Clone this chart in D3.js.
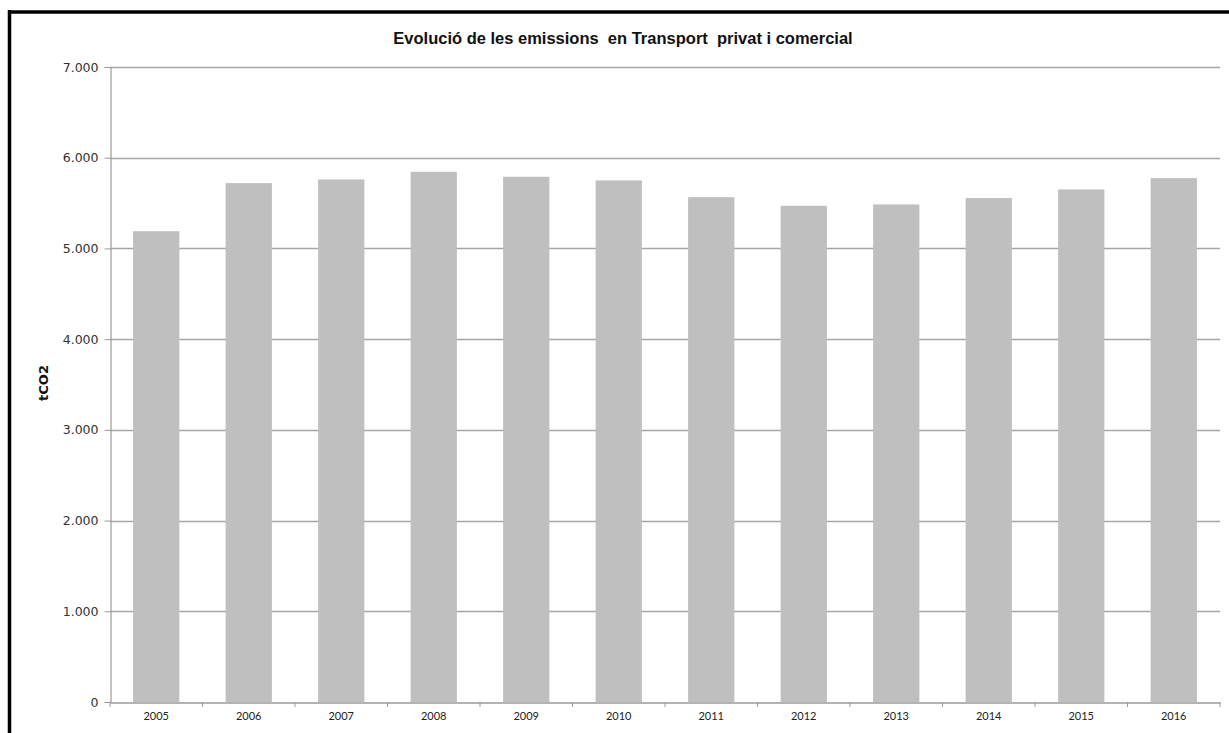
<!DOCTYPE html>
<html><head><meta charset="utf-8">
<script src="https://cdn.jsdelivr.net/npm/d3@7"></script>
<style>body{margin:0;background:#fff;overflow:hidden}</style>
</head><body>
<svg id="c" width="1229" height="733"></svg>
<script>
const years = ["2005","2006","2007","2008","2009","2010","2011","2012","2013","2014","2015","2016"];
const emissions = [5190, 5720, 5760, 5845, 5790, 5750, 5565, 5470, 5485, 5555, 5650, 5775];
const yTicks = [0, 1000, 2000, 3000, 4000, 5000, 6000, 7000];
const title = "Evolució de les emissions  en Transport  privat i comercial";
const yTitle = "tCO2";

const svg = d3.select("#c");
const m = {left:110, right:1220, top:67, bottom:702};

// frame border (top and left)
svg.append("line").attr("x1",8).attr("x2",1229).attr("y1",12).attr("y2",12).attr("stroke","#000").attr("stroke-width",3.5);
svg.append("line").attr("x1",9.5).attr("x2",9.5).attr("y1",10).attr("y2",733).attr("stroke","#000").attr("stroke-width",3.5);

const x = d3.scaleBand().domain(years).range([m.left, m.right]).paddingInner(0.5).paddingOuter(0.25);
const xb = d3.scaleBand().domain(years).range([m.left, m.right]);
const y = d3.scaleLinear().domain([0,7000]).range([m.bottom, m.top]);

// gridlines
svg.append("g").selectAll("line").data(yTicks.filter(d=>d>0)).join("line")
  .attr("x1",m.left).attr("x2",m.right)
  .attr("y1",d=>Math.round(y(d))+0.5).attr("y2",d=>Math.round(y(d))+0.5)
  .attr("stroke","#a6a6a6").attr("stroke-width",1.3);

// bars
svg.append("g").selectAll("rect").data(years).join("rect")
  .attr("x",d=>x(d)).attr("width",x.bandwidth())
  .attr("y",(d,i)=>y(emissions[i])).attr("height",(d,i)=>m.bottom-y(emissions[i]))
  .attr("fill","#bfbfbf");

// y axis
const yAxis = d3.axisLeft(y).tickValues(yTicks).tickSize(6).tickPadding(6)
  .tickFormat(d=>d===0?"0":d3.format(",")(d).replace(/,/g,"."));
const gy = svg.append("g").attr("transform",`translate(${m.left+0.5},0)`).call(yAxis);
gy.select(".domain").attr("stroke","#9a9a9a").attr("stroke-width",1.2);
gy.selectAll(".tick line").attr("stroke","#9a9a9a");
gy.selectAll(".tick text").attr("font-family","DejaVu Sans, Verdana, sans-serif").attr("font-size",12.5).attr("fill","#333");

// x axis
const xAxis = d3.axisBottom(xb).tickSize(0).tickPadding(10);
const gx = svg.append("g").attr("transform",`translate(0,${m.bottom+0.5})`).call(xAxis);
gx.select(".domain").attr("stroke","#9a9a9a").attr("stroke-width",1.3);
gx.selectAll(".tick text").attr("font-family","Lato, Carlito, sans-serif").attr("font-size",11).attr("fill","#222");
// boundary ticks
svg.append("g").selectAll("line").data(d3.range(years.length+1)).join("line")
  .attr("x1",i=>m.left+i*xb.step()).attr("x2",i=>m.left+i*xb.step())
  .attr("y1",m.bottom).attr("y2",m.bottom+5).attr("stroke","#9a9a9a");

// title
svg.append("text").attr("x",623).attr("y",44).attr("text-anchor","middle")
  .style("white-space","pre")
  .attr("font-family","Liberation Sans, Arial, sans-serif").attr("font-weight","bold").attr("font-size",16.5)
  .attr("fill","#111").text(title);

// y title
svg.append("text").attr("transform","translate(48,383) rotate(-90)").attr("text-anchor","middle")
  .attr("font-family","DejaVu Sans, Verdana, sans-serif").attr("font-weight","bold").attr("font-size",13)
  .attr("fill","#111").text(yTitle);
</script>
</body></html>
